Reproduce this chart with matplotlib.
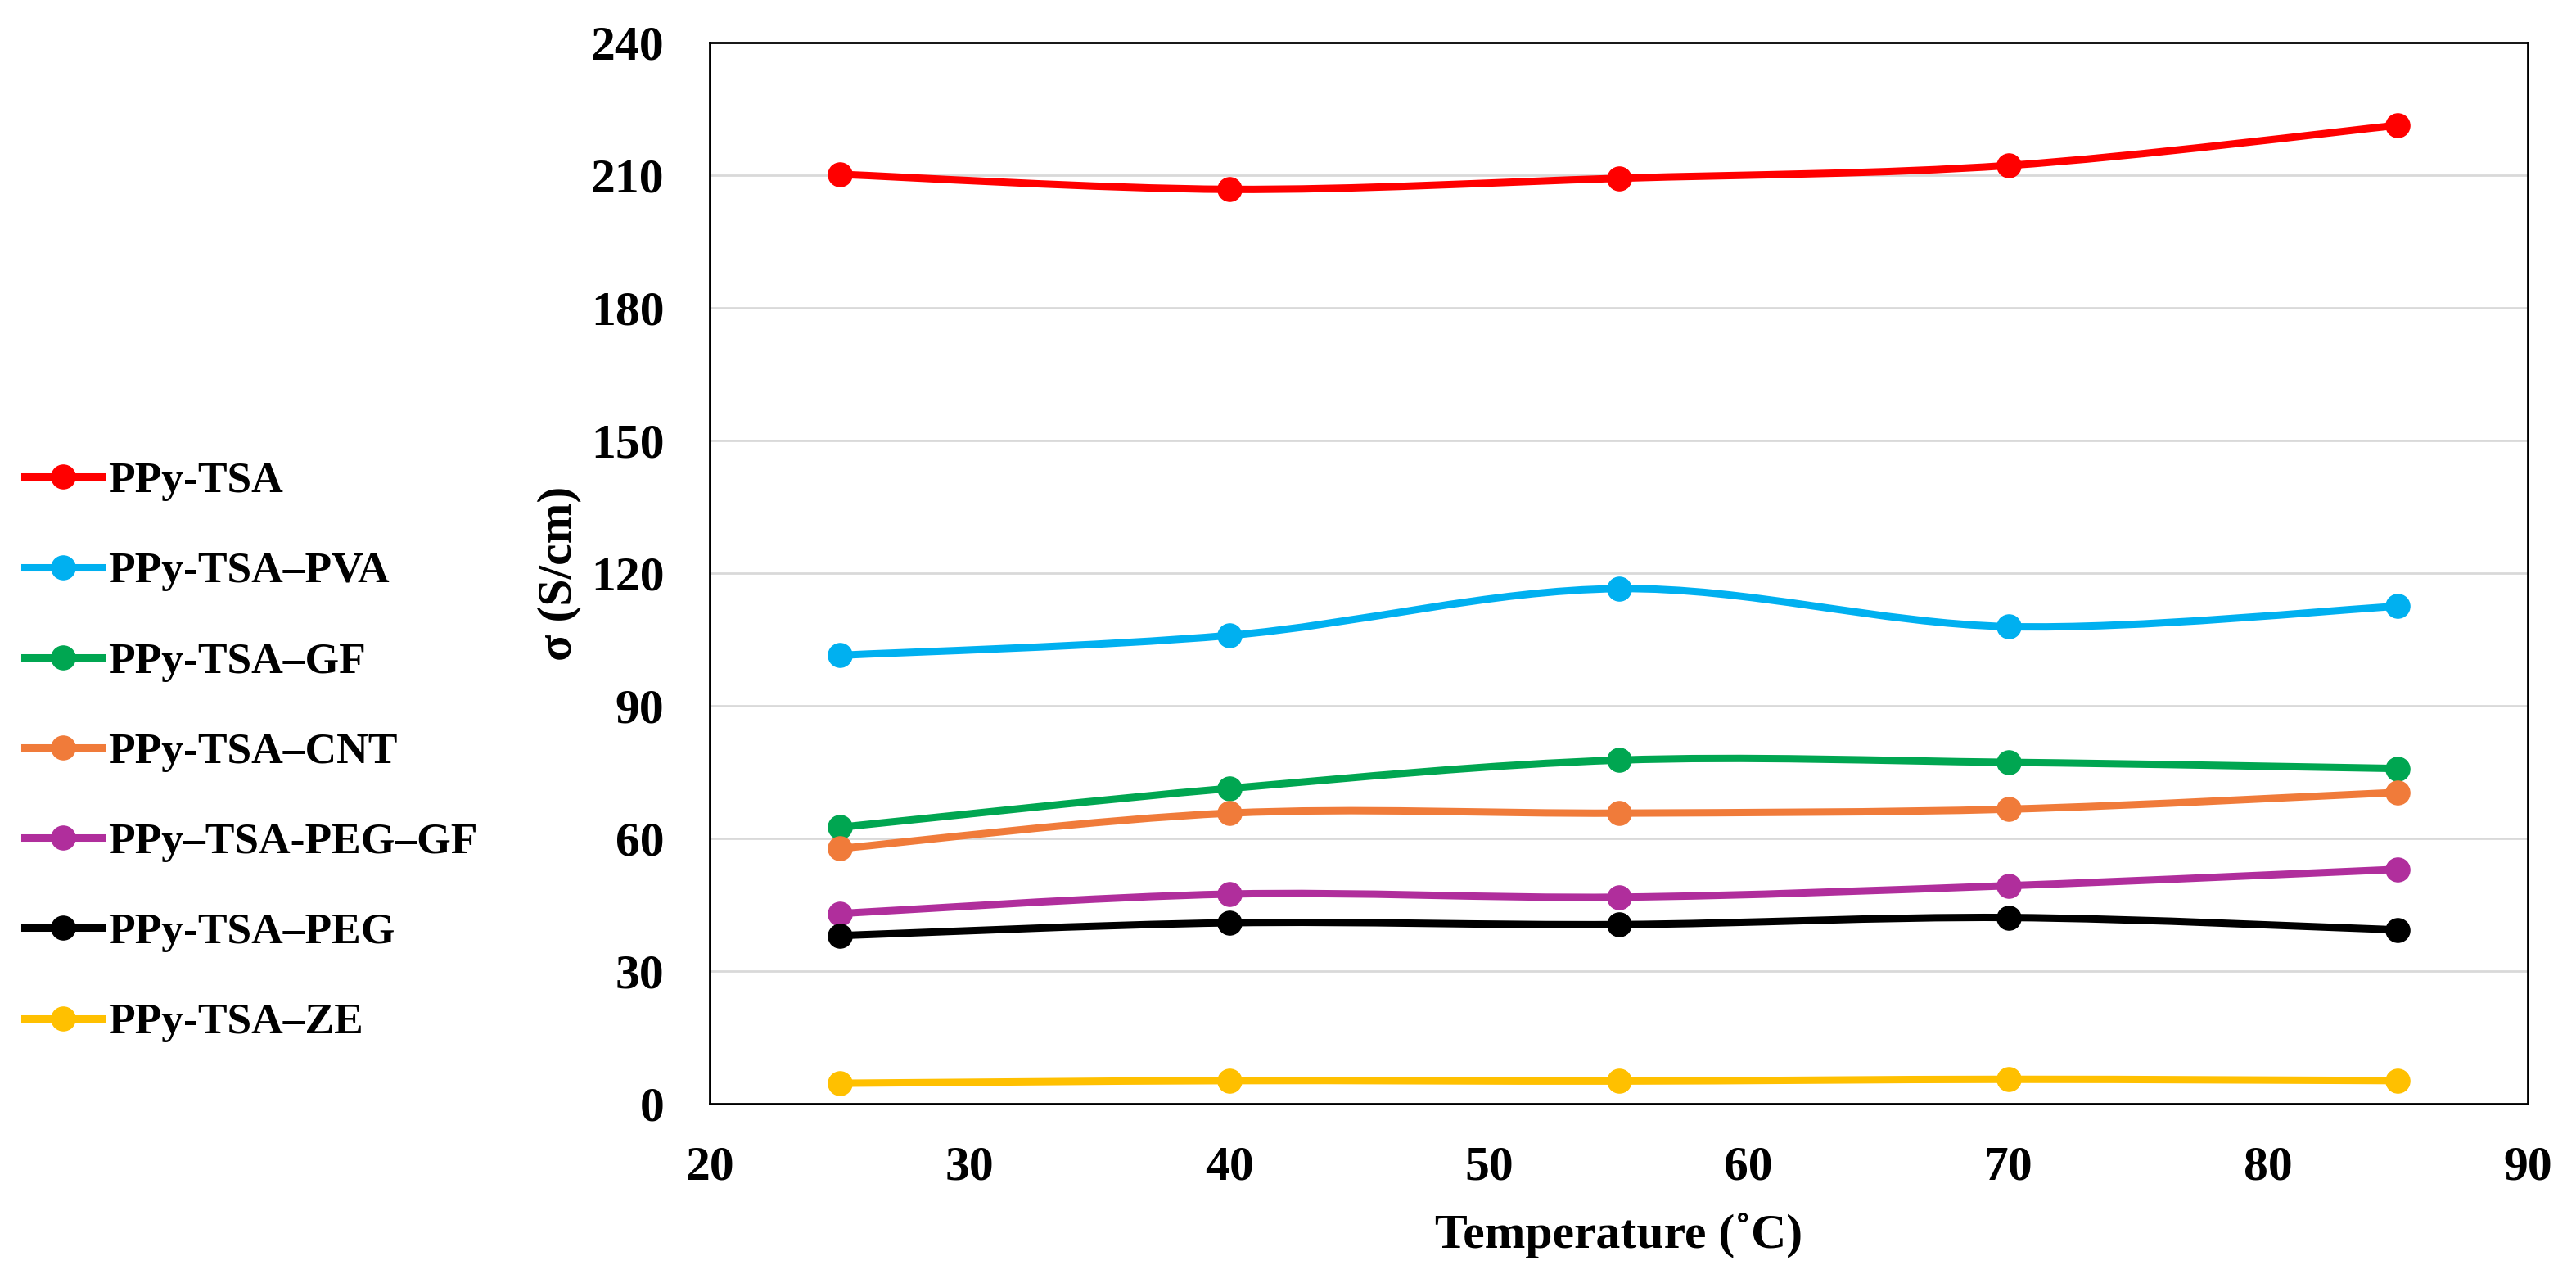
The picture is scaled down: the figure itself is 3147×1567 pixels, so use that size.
import matplotlib
matplotlib.use("Agg")
import matplotlib.pyplot as plt
from matplotlib.path import Path
from matplotlib.patches import PathPatch
from matplotlib.lines import Line2D

# data
temperature = [25, 40, 55, 70, 85]

ppy_tsa = [210.2, 206.8, 209.3, 212.2, 221.3]
ppy_tsa_pva = [101.4, 105.9, 116.5, 107.9, 112.5]
ppy_tsa_gf = [62.5, 71.3, 77.7, 77.2, 75.8]
ppy_tsa_cnt = [57.7, 65.7, 65.7, 66.6, 70.4]
ppy_tsa_peg_gf = [43.0, 47.4, 46.7, 49.3, 53.0]
ppy_tsa_peg = [38.0, 40.9, 40.5, 42.1, 39.3]
ppy_tsa_ze = [4.6, 5.2, 5.1, 5.5, 5.2]

labels = ["PPy-TSA", "PPy-TSA\u2013PVA", "PPy-TSA\u2013GF", "PPy-TSA\u2013CNT",
          "PPy\u2013TSA-PEG\u2013GF", "PPy-TSA\u2013PEG", "PPy-TSA\u2013ZE"]
series = [ppy_tsa, ppy_tsa_pva, ppy_tsa_gf, ppy_tsa_cnt,
          ppy_tsa_peg_gf, ppy_tsa_peg, ppy_tsa_ze]
colors = ["#FF0000", "#00B0F0", "#00A651", "#F07B3A",
          "#B02E9C", "#000000", "#FFC000"]

x_ticks = [20, 30, 40, 50, 60, 70, 80, 90]
y_ticks = [0, 30, 60, 90, 120, 150, 180, 210, 240]

plt.rcParams["font.family"] = ["Liberation Serif", "DejaVu Serif"]
plt.rcParams["font.weight"] = "bold"


def smooth_path(xs, ys):
    # Excel-like smoothed line: cubic bezier segments through the data points
    verts = [(xs[0], ys[0])]
    codes = [Path.MOVETO]
    n = len(xs)
    for i in range(n - 1):
        x0, y0 = (xs[i - 1], ys[i - 1]) if i > 0 else (xs[i], ys[i])
        x1, y1 = xs[i], ys[i]
        x2, y2 = xs[i + 1], ys[i + 1]
        x3, y3 = (xs[i + 2], ys[i + 2]) if i + 2 < n else (x2, y2)
        c1 = (x1 + (x2 - x0) / 6, y1 + (y2 - y0) / 6)
        c2 = (x2 - (x3 - x1) / 6, y2 - (y3 - y1) / 6)
        verts += [c1, c2, (x2, y2)]
        codes += [Path.CURVE4] * 3
    return Path(verts, codes)


fig = plt.figure(figsize=(31.47, 15.67), dpi=100)
ax = fig.add_axes([0.2755, 0.1398, 0.7058, 0.827])

lw = 6.5
ms = 21
handles = []
for ys, color, label in zip(series, colors, labels):
    ax.add_patch(PathPatch(smooth_path(temperature, ys), facecolor="none",
                           edgecolor=color, lw=lw, zorder=3,
                           capstyle="round", joinstyle="round"))
    ax.plot(temperature, ys, linestyle="none", marker="o", ms=ms,
            color=color, zorder=4)
    handles.append(Line2D([], [], color=color, lw=lw, marker="o", ms=ms,
                          label=label))

ax.set_xlim(20, 90)
ax.set_ylim(0, 240)
ax.set_xticks(x_ticks)
ax.set_yticks(y_ticks)
ax.tick_params(axis="both", length=0, labelsize=43)
ax.tick_params(axis="y", pad=40)
ax.tick_params(axis="x", pad=37)
for lab in ax.get_xticklabels() + ax.get_yticklabels():
    lab.set_fontweight("bold")

ax.yaxis.grid(True, color="#D9D9D9", lw=2)
ax.set_axisbelow(True)
for s in ax.spines.values():
    s.set_color("black")
    s.set_linewidth(2)

ax.set_xlabel("Temperature (\u02daC)", fontsize=43, fontweight="bold", labelpad=20)
ax.set_ylabel("\u03c3 (S/cm)", fontsize=43, fontweight="bold", labelpad=8)

fig.legend(handles=handles, loc="center left",
           bbox_to_anchor=(30 / 3147, 1 - 918.5 / 1567),
           frameon=False, handlelength=1.75,
           handletextpad=0.15, labelspacing=1.155, borderpad=0,
           borderaxespad=0, prop={"weight": "bold", "size": 38.5})

fig.savefig("out.png", dpi=100)
